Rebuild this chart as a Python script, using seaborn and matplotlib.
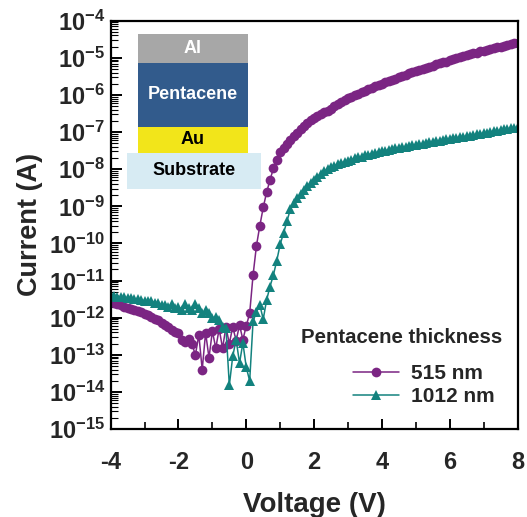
import numpy as np
import pandas as pd
import matplotlib
matplotlib.use("Agg")
import matplotlib.pyplot as plt
from matplotlib.patches import Rectangle
from matplotlib.ticker import FixedLocator, FuncFormatter, LogLocator, MultipleLocator
import seaborn as sns

# sweep voltage (V), 0.1 V steps from -4 to 8
voltage = np.round(np.linspace(-4, 8, 121), 1)

# log10 of current (A)
log_i_515 = [
    -11.56, -11.60, -11.64, -11.67, -11.71, -11.74, -11.77, -11.80, -11.82, -11.85,
    -11.89, -11.93, -11.98, -12.03, -12.07, -12.13, -12.20, -12.26, -12.33, -12.38,
    -12.42,
    -12.60, -12.66, -12.58, -12.72, -13.00, -12.46, -13.40, -12.40, -13.08, -12.36,
    -12.82, -12.30, -12.82, -12.25, -12.70, -12.24, -12.62, -12.20, -12.59, -12.22,
    -11.88, -10.85, -10.06, -9.52, -9.03, -8.62, -8.29, -7.98, -7.74, -7.53,
    -7.42, -7.31, -7.21, -7.11, -7.02, -6.93, -6.84, -6.75, -6.68, -6.62,
    -6.57, -6.52, -6.47, -6.42, -6.37, -6.30, -6.24, -6.19, -6.14, -6.09,
    -6.05, -6.01, -5.97, -5.93, -5.89, -5.85, -5.81, -5.77, -5.73, -5.70,
    -5.66, -5.63, -5.59, -5.56, -5.52, -5.49, -5.45, -5.42, -5.39, -5.36,
    -5.33, -5.30, -5.27, -5.24, -5.21, -5.18, -5.15, -5.12, -5.10, -5.07,
    -5.04, -5.01, -4.99, -4.96, -4.93, -4.91, -4.88, -4.86, -4.83, -4.81,
    -4.79, -4.76, -4.74, -4.72, -4.70, -4.68, -4.65, -4.63, -4.61, -4.59,
]
log_i_1012 = [
    -11.40, -11.42, -11.43, -11.45, -11.44, -11.47, -11.48, -11.50, -11.49, -11.53,
    -11.54, -11.56, -11.55, -11.60, -11.61, -11.65, -11.66, -11.72, -11.62, -11.75,
    -11.70,
    -11.78, -11.62, -11.74, -11.80, -11.62, -11.74, -11.88, -11.80, -11.88, -12.02,
    -11.97, -12.06, -12.26, -12.28, -13.82, -13.04, -12.59, -13.22, -12.68, -13.34,
    -13.70, -12.10, -11.84, -11.66, -12.04, -11.52, -11.16, -10.85, -10.46, -10.02,
    -9.72, -9.40, -9.08, -8.90, -8.78, -8.66, -8.56, -8.46, -8.36, -8.28,
    -8.20, -8.12, -8.05, -8.00, -7.95, -7.91, -7.87, -7.83, -7.80, -7.77,
    -7.74, -7.71, -7.68, -7.66, -7.63, -7.61, -7.58, -7.56, -7.54, -7.52,
    -7.50, -7.48, -7.46, -7.44, -7.43, -7.41, -7.39, -7.38, -7.36, -7.34,
    -7.33, -7.31, -7.29, -7.28, -7.26, -7.25, -7.23, -7.22, -7.20, -7.19,
    -7.17, -7.16, -7.14, -7.13, -7.11, -7.10, -7.08, -7.06, -7.05, -7.03,
    -7.02, -7.00, -6.98, -6.97, -6.95, -6.93, -6.92, -6.90, -6.89, -6.87,
]
labels = ["515 nm", "1012 nm"]
colors = ["#7b2583", "#13827e"]
markers = ["o", "^"]

# layer stack drawn as inset
layers = ["Al", "Pentacene", "Au", "Substrate"]
layer_colors = ["#a7a7a7", "#325b8c", "#f2e51a", "#d7ebf3"]
layer_text = ["white", "white", "black", "black"]

sns.set_style("white")
plt.rcParams["font.family"] = ["Liberation Sans", "DejaVu Sans"]
plt.rcParams["font.weight"] = "bold"
plt.rcParams["axes.unicode_minus"] = False
plt.rcParams["mathtext.fontset"] = "custom"
plt.rcParams["mathtext.rm"] = "Liberation Sans:bold"
plt.rcParams["mathtext.bf"] = "Liberation Sans:bold"

df = pd.concat([
    pd.DataFrame({"V": voltage, "I": 10.0 ** np.array(log_i_515), "thickness": labels[0]}),
    pd.DataFrame({"V": voltage, "I": 10.0 ** np.array(log_i_1012), "thickness": labels[1]}),
])

fig = plt.figure(figsize=(5.27, 5.17), dpi=100)
ax = fig.add_axes([0.210, 0.170, 0.772, 0.790])

sns.lineplot(data=df, x="V", y="I", hue="thickness", style="thickness",
             palette=colors, markers=markers, dashes=False, estimator=None,
             sort=False, markersize=7, markeredgewidth=0, linewidth=1.1, ax=ax)

ax.set_yscale("log")
ax.set_xlim(-4, 8)
ax.set_ylim(1e-15, 1e-4)
ax.xaxis.set_major_locator(MultipleLocator(2))
ax.xaxis.set_minor_locator(MultipleLocator(1))
ax.yaxis.set_major_locator(FixedLocator([10.0 ** k for k in range(-15, -3)]))
ax.yaxis.set_minor_locator(LogLocator(base=10, subs=np.arange(2, 10), numticks=30))
ax.yaxis.set_major_formatter(FuncFormatter(
    lambda y, p: r"$\mathbf{10^{%d}}$" % int(round(np.log10(y)))))

ax.tick_params(which="both", direction="in", left=True, bottom=True,
               top=False, right=False, color="black")
ax.tick_params(axis="y", which="major", length=8, width=1.4, labelsize=17, pad=4)
ax.tick_params(axis="y", which="minor", length=5, width=0.8)
ax.tick_params(axis="x", which="major", length=7, width=1.4, labelsize=17, pad=16)
ax.tick_params(axis="x", which="minor", length=5, width=1.2)
for lab in ax.get_xticklabels():
    lab.set_fontweight("bold")
for s in ax.spines.values():
    s.set_linewidth(1.6)
    s.set_color("black")

ax.set_xlabel("Voltage (V)", fontsize=20, fontweight="bold", labelpad=13)
ax.set_ylabel("Current (A)", fontsize=19.5, fontweight="bold", labelpad=4)

# legend
handles, labs = ax.get_legend_handles_labels()
ax.get_legend().remove()
leg = ax.legend(handles, labs, loc="center", bbox_to_anchor=(0.77, 0.107),
                frameon=False, fontsize=15, handlelength=2.2, handletextpad=0.55,
                labelspacing=0.2, borderpad=0, borderaxespad=0)
for t in leg.get_texts():
    t.set_fontweight("bold")
ax.text(0.716, 0.2235, "Pentacene thickness", transform=ax.transAxes,
        ha="center", va="center", fontsize=14.7, fontweight="bold")

# device stack inset (axes fraction)
boxes = [(0.067, 0.897, 0.270, 0.071), (0.067, 0.740, 0.270, 0.157),
         (0.067, 0.676, 0.270, 0.064), (0.040, 0.588, 0.329, 0.088)]
for name, c, tc, (x0, y0, w, h) in zip(layers, layer_colors, layer_text, boxes):
    ax.add_patch(Rectangle((x0, y0), w, h, transform=ax.transAxes,
                           facecolor=c, edgecolor="none", zorder=5))
    ax.text(x0 + w / 2, y0 + h / 2, name, transform=ax.transAxes, ha="center",
            va="center", color=tc, fontsize=13, fontweight="bold", zorder=6)

fig.savefig("out.png", dpi=100)
